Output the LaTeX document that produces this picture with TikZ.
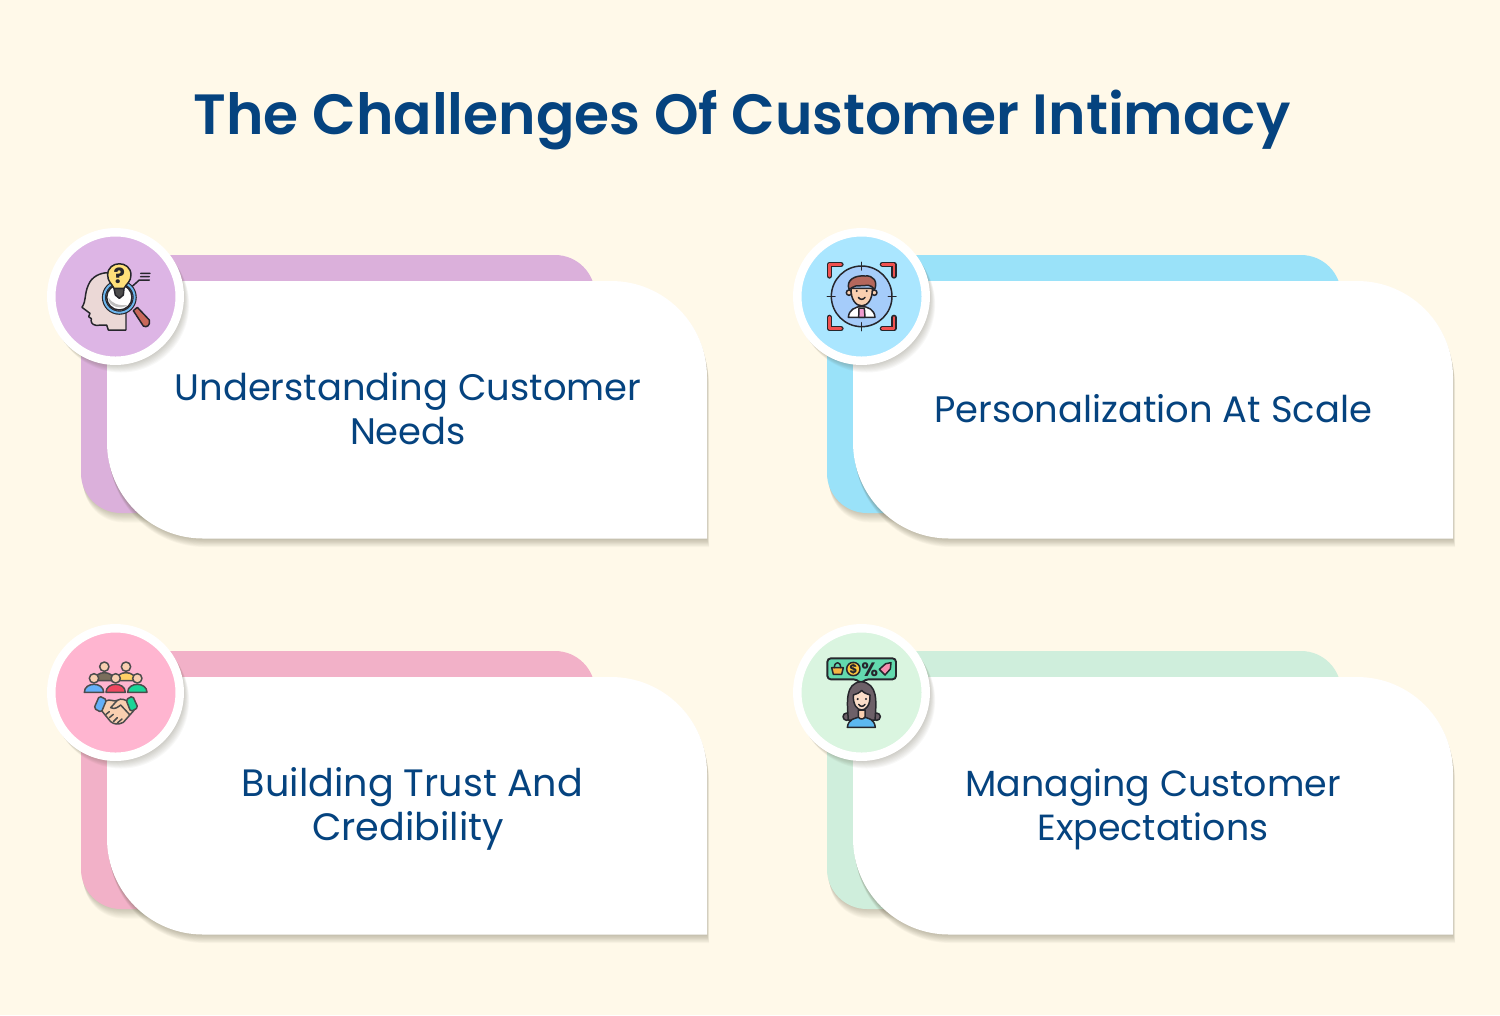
\documentclass[tikz,border=0pt]{standalone}
\usepackage{fontspec}
\setmainfont{Poppins}
\newfontfamily\headingfont{Poppins SemiBold}
\usepackage{tikz}
\usetikzlibrary{positioning}
\definecolor{pagebg}{HTML}{FFF9E9}
\definecolor{inkblue}{HTML}{05437F}
\definecolor{shadowtint}{HTML}{5A5640}
\definecolor{iconline}{HTML}{26262C}
\definecolor{needsback}{HTML}{DBB0DB}
\definecolor{needsfill}{HTML}{DDB5E5}
\definecolor{scaleback}{HTML}{9AE2F9}
\definecolor{scalefill}{HTML}{AAE6FF}
\definecolor{trustback}{HTML}{F2B1C8}
\definecolor{trustfill}{HTML}{FFB5D0}
\definecolor{expectback}{HTML}{CFEEDC}
\definecolor{expectfill}{HTML}{DAF5E0}
\definecolor{headskin}{HTML}{EBD8D6}
\definecolor{lensblue}{HTML}{6DB6EE}
\definecolor{handlered}{HTML}{C9695A}
\definecolor{bulbyellow}{HTML}{FFE07A}
\definecolor{skintone}{HTML}{F9CFB0}
\definecolor{targetblue}{HTML}{A5CCFA}
\definecolor{cornerred}{HTML}{F0514F}
\definecolor{hairbrown}{HTML}{B5675C}
\definecolor{tiepink}{HTML}{F09BD0}
\definecolor{cloth1}{HTML}{7A6F5C}
\definecolor{cloth2}{HTML}{FFD166}
\definecolor{cloth3}{HTML}{64B0F8}
\definecolor{cloth4}{HTML}{F0475F}
\definecolor{cloth5}{HTML}{1AD597}
\definecolor{bubblegreen}{HTML}{63D9AE}
\definecolor{basketorange}{HTML}{F5B544}
\definecolor{coinyellow}{HTML}{FDC53F}
\definecolor{tagpink}{HTML}{F78FB0}
\definecolor{hairgrey}{HTML}{6D6068}
\definecolor{blouseblue}{HTML}{5CB8F0}
\tikzstyle{title} = [text=inkblue, font=\fontsize{32.3}{38}\headingfont, inner sep=0pt]
\tikzstyle{cardtext} = [text=inkblue, align=center, inner sep=0pt, font=\fontsize{21}{25}\selectfont]
\tikzstyle{badge} = [circle, draw=white, line width=4.82pt, minimum size=2.57cm, inner sep=0pt]
\tikzstyle{icon} = [x=0.00667cm, y=-0.00667cm, line width=0.85pt, color=iconline, line join=round, line cap=round]
\newcommand{\frontpath}{(107,281) -- (611,281) arc[start angle=-90, end angle=0, radius=96] -- (707,538.5) -- (203,538.5) arc[start angle=90, end angle=180, radius=96] -- cycle}
\newcommand{\backpath}{(81,255) -- (555,255) arc[start angle=-90, end angle=0, radius=40] -- (595,513) -- (121,513) arc[start angle=90, end angle=180, radius=40] -- cycle}
% one card: back colour, x shift, y shift
\newcommand{\challengecard}[3]{
  \begin{scope}[shift={(#2,#3)}]
    \foreach \o in {1,...,10}
      \fill[shadowtint, opacity=0.033, shift={(\o*0.25,\o*0.95)}] \backpath;
    \fill[#1] \backpath;
    \foreach \o in {1,...,10}
      \fill[shadowtint, opacity=0.04, shift={(\o*0.2,\o*0.85)}] \frontpath;
    \fill[white] \frontpath;
  \end{scope}
}
\newcommand{\badgeshadow}[2]{
  \foreach \o in {1,...,8}
    \fill[shadowtint, opacity=0.04, shift={(\o*0.7,\o*1.0)}] (#1,#2) circle[radius=68];
}
\begin{document}
\begin{tikzpicture}[x=0.02cm, y=-0.02cm]
  \fill[pagebg] (0,0) rectangle (1500,1015);
  \useasboundingbox (0,0) rectangle (1500,1015);
  \node (heading) [title] at (742,120) {The Challenges Of Customer Intimacy};

  \challengecard{needsback}{0}{0}
  \challengecard{scaleback}{746}{0}
  \challengecard{trustback}{0}{396}
  \challengecard{expectback}{746}{396}

  \node (needs_text) [cardtext] at (408,409) {Understanding Customer\\Needs};
  \node (scale_text) [cardtext] at (1153,409) {Personalization At Scale};
  \node (trust_text) [cardtext, font=\fontsize{21.7}{25}\selectfont] at (408,809) {\hspace*{0.18cm}Building Trust And\\Credibility};
  \node (expect_text) [cardtext, font=\fontsize{20.7}{25}\selectfont] at (1153,809) {Managing Customer\\Expectations};

  \badgeshadow{115.5}{296.5}
  \badgeshadow{861.5}{296.5}
  \badgeshadow{115.5}{692.5}
  \badgeshadow{861.5}{692.5}
  \node (needs_badge) [badge, fill=needsfill] at (115.5,296.5) {};
  \node (scale_badge) [badge, fill=scalefill] at (861.5,296.5) {};
  \node (trust_badge) [badge, fill=trustfill] at (115.5,692.5) {};
  \node (expect_badge) [badge, fill=expectfill] at (861.5,692.5) {};

  % head, lens and bulb
  \begin{scope}[shift={(40,220)}, icon]
    \filldraw[fill=headskin] (258,330) -- (205,330) -- (200,315) -- (168,316) .. controls (155,314) and (152,305) .. (154,296) -- (146,290) -- (150,280) -- (126,262) .. controls (140,240) and (132,225) .. (145,195) .. controls (155,170) and (180,158) .. (205,158) -- (258,200) -- cycle;
    \draw (270,205) -- (298,180) -- (328,180) (302,170) -- (328,170) (302,160) -- (330,160);
    \filldraw[fill=white] (238,232) circle[radius=38];
    \fill[black!25] (205,232) .. controls (215,250) and (235,258) .. (262,255) .. controls (250,268) and (205,265) .. (205,232);
    \draw[line width=2.4pt] (238,232) circle[radius=46];
    \draw[line width=1.1pt, color=lensblue] (238,232) circle[radius=46];
    \filldraw[fill=handlered] (280,272) -- (292,262) -- (328,300) .. controls (332,316) and (320,324) .. (310,318) -- cycle;
    \filldraw[fill=black!70] (222,205) -- (252,205) -- (250,225) -- (238,235) -- (226,225) -- cycle;
    \filldraw[fill=bulbyellow] (222,205) .. controls (215,190) and (203,185) .. (203,165) .. controls (203,120) and (273,120) .. (273,165) .. controls (273,185) and (260,190) .. (252,205) -- cycle;
    \node (needs_mark) [inner sep=0pt, font=\fontsize{12}{12}\selectfont\bfseries] at (238,168) {?};
  \end{scope}

  % person in a target
  \begin{scope}[shift={(785,220)}, icon]
    \filldraw[fill=targetblue] (230,229) circle[radius=91];
    \draw (230,127) -- (230,150) (230,308) -- (230,332) (127,229) -- (150,229) (310,229) -- (333,229);
    \foreach \lw/\c in {3pt/iconline, 1.5pt/cornerred}
      \draw[line width=\lw, color=\c] (168,133) -- (133,133) -- (133,168) (292,133) -- (327,133) -- (327,168) (168,326) -- (133,326) -- (133,292) (292,326) -- (327,326) -- (327,292);
    \filldraw[fill=white] (190,292) .. controls (192,268) and (210,262) .. (230,258) .. controls (250,262) and (268,268) .. (270,292) -- cycle;
    \filldraw[fill=tiepink] (222,264) -- (238,264) -- (240,292) -- (221,292) -- cycle;
    \filldraw[fill=skintone] (192,218) circle[radius=8] (268,218) circle[radius=8];
    \filldraw[fill=skintone] (198,205) .. controls (196,275) and (264,275) .. (262,205) -- cycle;
    \filldraw[fill=hairbrown] (192,208) .. controls (182,180) and (210,165) .. (240,168) .. controls (265,165) and (280,185) .. (268,210) .. controls (262,200) and (258,196) .. (250,196) -- (212,198) .. controls (205,200) and (198,205) .. (192,208) -- cycle;
    \fill (215,213) circle[radius=3.5] (245,213) circle[radius=3.5];
    \draw (220,232) .. controls (225,240) and (235,240) .. (240,232);
  \end{scope}

  % group above a handshake
  \begin{scope}[shift={(40,615)}, icon, color=black!70]
    \foreach \px/\py/\pc in {193/155/cloth1, 258/155/cloth2, 162/190/cloth3, 227/190/cloth4, 292/190/cloth5} {
      \filldraw[fill=\pc] (\px-29,\py+42) .. controls (\px-29,\py+10) and (\px+29,\py+10) .. (\px+29,\py+42) -- cycle;
      \filldraw[fill=skintone] (\px,\py) circle[radius=14];
    }
    \filldraw[fill=skintone] (196,258) .. controls (212,250) and (220,262) .. (232,256) .. controls (245,248) and (255,255) .. (266,260) -- (282,286) -- (250,322) .. controls (235,330) and (222,328) .. (212,320) -- (184,286) -- cycle;
    \draw (232,256) -- (212,278) .. controls (225,285) and (235,275) .. (242,270) -- (268,298);
    \draw (198,298) -- (208,290) (208,308) -- (220,298) (220,320) -- (232,308) (232,324) -- (246,312);
    \filldraw[fill=cloth3, rounded corners=1pt] (178,243) -- (200,254) -- (184,292) -- (162,280) -- cycle;
    \filldraw[fill=cloth5, rounded corners=1pt] (258,254) -- (278,243) -- (294,278) -- (272,290) -- cycle;
  \end{scope}

  % woman under a speech bubble
  \begin{scope}[shift={(785,615)}, icon]
    \filldraw[line width=1.1pt, fill=bubblegreen, rounded corners=2pt] (127,130) -- (333,130) -- (333,193) -- (240,193) -- (228,207) -- (216,193) -- (127,193) -- cycle;
    \filldraw[fill=basketorange] (140,158) -- (175,158) -- (170,178) -- (145,178) -- cycle;
    \draw (148,158) .. controls (148,138) and (167,138) .. (167,158);
    \filldraw[fill=coinyellow] (205,162) circle[radius=20];
    \node (expect_coin) [inner sep=0pt, font=\fontsize{7}{7}\selectfont\bfseries] at (205,162) {\$};
    \node (expect_percent) [inner sep=0pt, font=\fontsize{11}{11}\selectfont\bfseries] at (254,163) {\%};
    \filldraw[fill=tagpink] (283,163) -- (302,146) -- (318,143) -- (316,162) -- (300,180) -- cycle;
    \filldraw[fill=hairgrey] (185,305) circle[radius=11] (275,305) circle[radius=11];
    \filldraw[fill=hairgrey] (190,315) .. controls (186,260) and (180,205) .. (228,200) .. controls (280,205) and (274,260) .. (270,315) -- cycle;
    \filldraw[fill=blouseblue] (187,337) .. controls (190,312) and (210,308) .. (230,306) .. controls (250,308) and (268,312) .. (271,337) -- cycle;
    \filldraw[fill=skintone] (220,285) -- (240,285) -- (240,306) .. controls (235,314) and (225,314) .. (220,306) -- cycle;
    \filldraw[fill=skintone!70!white] (205,240) .. controls (215,238) and (225,232) .. (230,226) .. controls (235,232) and (245,238) .. (255,240) .. controls (258,300) and (202,300) .. (205,240) -- cycle;
    \fill (218,252) circle[radius=3.5] (243,252) circle[radius=3.5];
    \draw (221,268) .. controls (226,276) and (235,276) .. (240,268);
  \end{scope}
\end{tikzpicture}
\end{document}
